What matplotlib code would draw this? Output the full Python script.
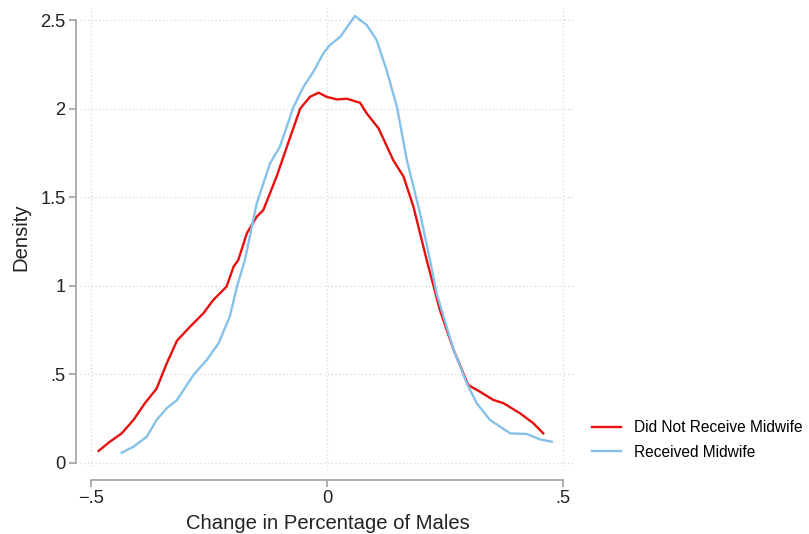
import matplotlib.pyplot as plt
import numpy as np

plt.rcParams['font.family'] = ['Liberation Sans', 'DejaVu Sans']

# kernel density curves
no_mw_x = [-0.484, -0.46, -0.435, -0.41, -0.386, -0.361, -0.34, -0.318, -0.29, -0.262,
           -0.241, -0.213, -0.198, -0.188, -0.17, -0.149, -0.135, -0.107, -0.078, -0.057,
           -0.036, -0.018, -0.001, 0.021, 0.042, 0.07, 0.084, 0.109, 0.14, 0.162,
           0.183, 0.211, 0.239, 0.268, 0.299, 0.324, 0.352, 0.374, 0.409, 0.437, 0.458]
no_mw_y = [0.068, 0.12, 0.167, 0.243, 0.337, 0.42, 0.56, 0.69, 0.77, 0.845,
           0.92, 0.995, 1.108, 1.146, 1.296, 1.39, 1.428, 1.616, 1.84, 2.0,
           2.067, 2.09, 2.067, 2.052, 2.056, 2.033, 1.973, 1.889, 1.71, 1.616,
           1.446, 1.146, 0.863, 0.638, 0.44, 0.402, 0.356, 0.337, 0.28, 0.224, 0.167]

mw_x = [-0.435, -0.41, -0.382, -0.361, -0.34, -0.318, -0.283, -0.255, -0.23, -0.206,
        -0.191, -0.174, -0.149, -0.121, -0.1, -0.071, -0.05, -0.029, -0.008, 0.006,
        0.028, 0.059, 0.084, 0.105, 0.126, 0.148, 0.169, 0.197, 0.218, 0.232,
        0.268, 0.296, 0.317, 0.345, 0.388, 0.423, 0.451, 0.476]
mw_y = [0.058, 0.092, 0.148, 0.243, 0.308, 0.355, 0.497, 0.581, 0.675, 0.826,
        0.995, 1.146, 1.465, 1.69, 1.785, 2.01, 2.124, 2.208, 2.312, 2.359,
        2.406, 2.523, 2.472, 2.387, 2.218, 2.01, 1.71, 1.409, 1.146, 0.958,
        0.638, 0.45, 0.337, 0.243, 0.167, 0.164, 0.133, 0.12]

x_ticks = [-0.5, 0, 0.5]
x_labels = ['\u2212.5', '0', '.5']
y_ticks = [0, 0.5, 1, 1.5, 2, 2.5]
y_labels = ['0', '.5', '1', '1.5', '2', '2.5']

fig = plt.figure(figsize=(8.09, 5.34), dpi=100)
ax = fig.add_axes([0.0989, 0.1199, 0.612, 0.8707])

ax.plot(no_mw_x, no_mw_y, color='#e8100f', lw=1.7, label='Did Not Receive Midwife')
ax.plot(mw_x, mw_y, color='#85c1e9', lw=1.7, label='Received Midwife')

ax.set_xlim(-0.5233, 0.5254)
ax.set_ylim(-0.0395, 2.585)
ax.set_xticks(x_ticks)
ax.set_xticklabels(x_labels)
ax.set_yticks(y_ticks)
ax.set_yticklabels(y_labels)

ax.grid(True, linestyle=(0, (1, 2)), color='#d6d6d6', lw=0.9)
for s in ['top', 'right']:
    ax.spines[s].set_visible(False)
ax.spines['left'].set_position(('outward', 3))
ax.spines['bottom'].set_position(('outward', 7))
ax.spines['left'].set_bounds(0, 2.5)
ax.spines['bottom'].set_bounds(-0.5, 0.5)
for s in ['left', 'bottom']:
    ax.spines[s].set_color('#a0a0a0')
    ax.spines[s].set_linewidth(1.2)
ax.tick_params(colors='#a0a0a0', labelcolor='#222222', length=5, width=1.2,
               labelsize=13.2, pad=2.5)

ax.set_xlabel('Change in Percentage of Males', fontsize=14.6, color='#222222', labelpad=5)
ax.set_ylabel('Density', fontsize=14.6, color='#222222', labelpad=7)

ax.legend(loc='center left', bbox_to_anchor=(1.005, 0.0645), frameon=False, fontsize=11.2,
          handlelength=1.9, handletextpad=0.8, labelspacing=0.6)

fig.savefig('out.png', dpi=100)
